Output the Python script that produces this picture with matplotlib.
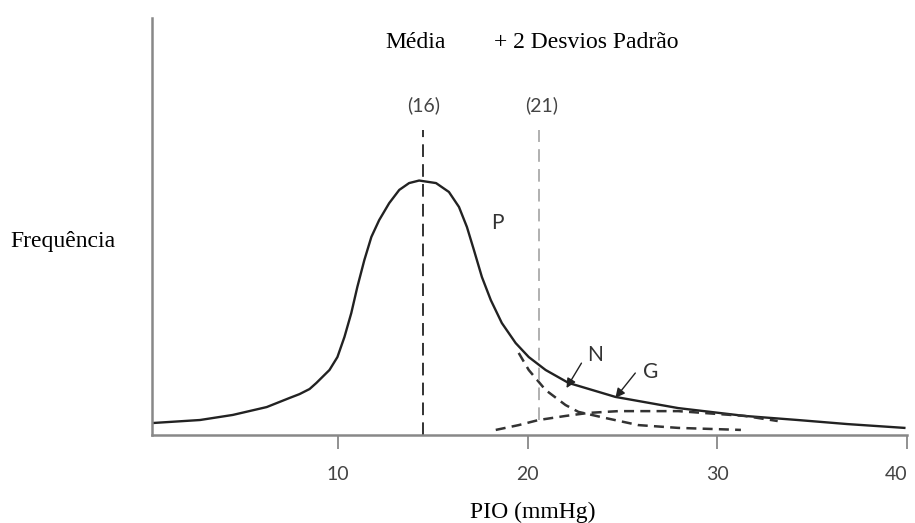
import matplotlib
matplotlib.use("Agg")
import matplotlib.pyplot as plt
from matplotlib.transforms import ScaledTranslation

# curve P (population)
p_x = [0.18, 2.71, 4.44, 6.23, 7.44, 7.96, 8.49, 8.85, 9.54, 9.96, 10.33, 10.69, 11.01,
       11.38, 11.75, 12.16, 12.69, 13.22, 13.74, 14.27, 15.16, 15.84, 16.37, 16.79,
       17.16, 17.58, 18.05, 18.63, 19.36, 20.05, 20.94, 22.15, 24.62, 27.93, 31.45,
       34.24, 36.86, 39.86]
p_y = [4.7, 5.9, 7.9, 11.0, 14.6, 16.1, 18.1, 20.5, 25.6, 30.7, 38.6, 48.0, 58.3,
       68.9, 78.0, 84.6, 91.3, 96.5, 99.2, 100.2, 99.2, 95.7, 89.8, 81.9,
       72.8, 62.2, 53.1, 44.1, 36.2, 30.7, 25.6, 20.5, 15.0, 10.6, 7.5,
       5.9, 4.3, 2.8]

# curve N (normal)
n_x = [19.52, 20.05, 20.94, 21.99, 22.67, 24.09, 25.83, 27.93, 31.24]
n_y = [32.3, 25.6, 17.7, 11.8, 9.1, 6.7, 3.9, 2.8, 2.0]

# curve G (glaucoma)
g_x = [18.31, 19.52, 20.57, 21.99, 23.20, 24.78, 27.93, 31.45, 33.18]
g_y = [2.0, 3.9, 5.9, 7.5, 8.7, 9.4, 9.4, 7.5, 5.5]

mean_x = 14.48
upper_x = 20.6
mean_label = "(16)"
upper_label = "(21)"
x_ticks = [10, 20, 30, 40]

serif = "Liberation Serif"
sans = "Lato"

fig = plt.figure(figsize=(9.15, 5.23), dpi=100)
ax = fig.add_axes([152 / 915, 1 - 435 / 523, 755 / 915, 417 / 523])

ax.plot(p_x, p_y, color="#222222", lw=1.7, solid_joinstyle="round")
ax.plot(n_x, n_y, color="#333333", lw=1.8, ls=(0, (4, 2.5)))
ax.plot(g_x, g_y, color="#333333", lw=1.8, ls=(0, (4, 2.5)))

ax.vlines(mean_x, 0, 120, color="#222222", lw=1.3, ls=(0, (7, 4)))
ax.vlines(upper_x, 5.9, 120, color="#aaaaaa", lw=1.3, ls=(0, (7, 4)))

ax.text(mean_x, 130, mean_label, ha="center", va="center", fontsize=14,
        family=sans, color="#444444")
ax.text(20.73, 130, upper_label, ha="center", va="center", fontsize=14,
        family=sans, color="#444444")
ax.text(18.37, 83.5, "P", ha="center", va="center", fontsize=15,
        family=sans, color="#333333")
ax.text(23.57, 31.5, "N", ha="center", va="center", fontsize=15,
        family=sans, color="#333333")
ax.text(26.46, 24.8, "G", ha="center", va="center", fontsize=15,
        family=sans, color="#333333")

arrow = dict(arrowstyle="-|>", color="#222222", lw=1.0, mutation_scale=14,
             shrinkA=0, shrinkB=0)
ax.annotate("", xy=(22.04, 18.5), xytext=(22.83, 28.3), arrowprops=arrow)
ax.annotate("", xy=(24.62, 14.6), xytext=(25.67, 24.4), arrowprops=arrow)

ax.set_xlim(0.18, 39.86)
ax.set_ylim(0, 164.2)
ax.set_xticks(x_ticks)
ax.set_xticklabels([str(t) for t in x_ticks], family=sans, fontsize=14,
                   color="#444444")
last = ax.get_xticklabels()[-1]
last.set_ha("right")
last.set_transform(last.get_transform() + ScaledTranslation(0.07, 0, fig.dpi_scale_trans))
ax.set_yticks([])
ax.tick_params(axis="x", direction="out", length=10, width=1.3,
               color="#888888", pad=12)
for side in ["top", "right"]:
    ax.spines[side].set_visible(False)
for side in ["left", "bottom"]:
    ax.spines[side].set_color("#888888")
    ax.spines[side].set_linewidth(1.8)

fig.text(416 / 915, 1 - 43 / 523, "Média", ha="center", va="center",
         fontsize=17, family=serif)
fig.text(586 / 915, 1 - 43 / 523, "+ 2 Desvios Padrão", ha="center",
         va="center", fontsize=17, family=serif)
fig.text(63 / 915, 1 - 241 / 523, "Frequência", ha="center", va="center",
         fontsize=17, family=serif)
fig.text(533 / 915, 1 - 512 / 523, "PIO (mmHg)", ha="center", va="center",
         fontsize=17, family=serif)

fig.savefig("out.png", dpi=100)
